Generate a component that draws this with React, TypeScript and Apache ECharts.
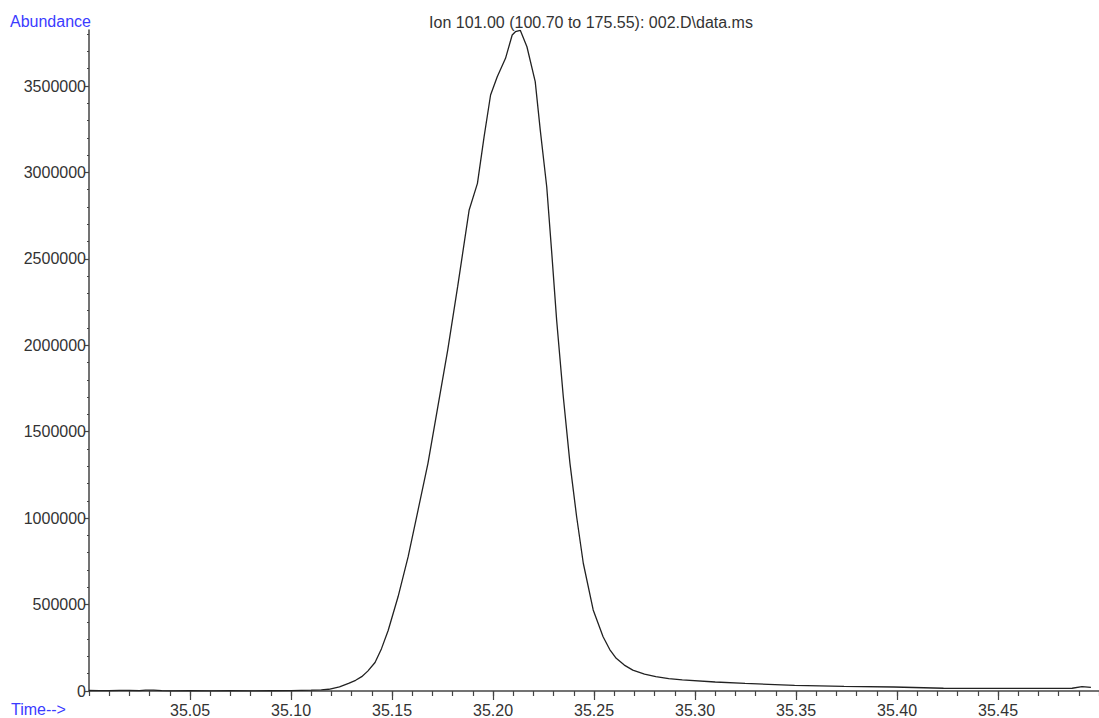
import React, { useEffect, useRef } from "react";
import * as echarts from "echarts";

const times: number[] = [
  35.0, 35.005, 35.01, 35.015, 35.02, 35.025, 35.028, 35.032, 35.036, 35.04,
  35.05, 35.06, 35.07, 35.08, 35.09, 35.1, 35.105, 35.11, 35.115, 35.1187,
  35.124, 35.1285, 35.132, 35.135, 35.138, 35.1416, 35.1448, 35.1481, 35.153,
  35.158, 35.1629, 35.1678, 35.1727, 35.1776, 35.1825, 35.1882, 35.1923,
  35.1956, 35.1988, 35.2021, 35.2062, 35.2095, 35.2111, 35.2135, 35.2168,
  35.2209, 35.2234, 35.2266, 35.2291, 35.2315, 35.2348, 35.2381, 35.2414,
  35.2447, 35.2496, 35.2545, 35.2578, 35.261, 35.265, 35.2692, 35.275, 35.2806,
  35.287, 35.2937, 35.31, 35.3248, 35.3493, 35.3738, 35.3984, 35.423, 35.4475,
  35.477, 35.4867, 35.4916, 35.496,
];

const abundance: number[] = [
  3000, 2000, 2500, 4000, 3500, 2500, 5000, 4500, 2000, 1000,
  1500, 1000, 1500, 1000, 1500, 2000, 4000, 5000, 7000, 10000,
  24000, 44000, 62000, 83000, 115000, 165000, 245000, 350000, 545000,
  777000, 1047000, 1317000, 1645000, 1973000, 2339000, 2783000, 2937000,
  3207000, 3448000, 3554000, 3660000, 3795000, 3814000, 3822000, 3727000,
  3525000, 3245000, 2917000, 2532000, 2146000, 1702000, 1317000, 1008000,
  739000, 469000, 314000, 240000, 189000, 150000, 121000, 98000, 83000,
  72000, 64000, 52000, 44000, 33000, 27000, 23000, 16000, 15000,
  15000, 16000, 25000, 21000,
];

const yMajorTicks: number[] = [0, 500000, 1000000, 1500000, 2000000, 2500000, 3000000, 3500000];
const yMinorTicks: number[] = [
  100000, 200000, 300000, 400000, 600000, 700000, 800000, 900000,
  1100000, 1200000, 1300000, 1400000, 1600000, 1700000, 1800000, 1900000,
  2100000, 2200000, 2300000, 2400000, 2600000, 2700000, 2800000, 2900000,
  3100000, 3200000, 3300000, 3400000, 3600000, 3700000, 3800000,
];

const titleText = "Ion 101.00 (100.70 to 175.55): 002.D\\data.ms";
const yAxisTitle = "Abundance";
const xAxisTitle = "Time-->";

const FONT = "'Liberation Sans', Arial, sans-serif";
const AXIS_COLOR = "#444";
const LABEL_COLOR = "#333";
const BLUE = "#3b3bff";

export default function App() {
  const ref = useRef<HTMLDivElement>(null);

  useEffect(() => {
    if (!ref.current) return;
    const chart = echarts.init(ref.current, null, { renderer: "svg" });
    const data = times.map((t, i) => [t, abundance[i]]);
    const option: any = {
      animation: false,
      backgroundColor: "#fff",
      textStyle: { fontFamily: FONT },
      grid: { left: 89, right: -4.5, top: 30, bottom: 27, containLabel: false },
      xAxis: [
        {
          type: "value",
          position: "bottom",
          min: 35.0,
          max: 35.5,
          interval: 0.05,
          axisLine: { show: true, onZero: false, lineStyle: { color: AXIS_COLOR, width: 1.5 } },
          axisTick: { show: true, inside: false, length: 9, lineStyle: { color: AXIS_COLOR, width: 1.2 } },
          axisLabel: {
            show: true,
            showMinLabel: false,
            showMaxLabel: false,
            margin: 11,
            fontSize: 16,
            fontFamily: FONT,
            color: LABEL_COLOR,
            formatter: (v: number) => v.toFixed(2),
          },
          splitLine: { show: false },
        },
        {
          type: "value",
          position: "bottom",
          min: 35.0,
          max: 35.5,
          interval: 0.01,
          axisLine: { show: false, onZero: false },
          axisTick: { show: true, inside: false, length: 5, lineStyle: { color: AXIS_COLOR, width: 1.2 } },
          axisLabel: { show: false },
          splitLine: { show: false },
        },
      ],
      yAxis: [
        {
          type: "value",
          position: "left",
          min: 0,
          max: 3824000,
          axisLine: { show: true, lineStyle: { color: AXIS_COLOR, width: 1.5 } },
          axisTick: {
            show: true,
            inside: false,
            length: 4,
            customValues: yMajorTicks,
            lineStyle: { color: AXIS_COLOR, width: 1.2 },
          },
          axisLabel: {
            show: true,
            customValues: yMajorTicks,
            margin: 3,
            fontSize: 16,
            fontFamily: FONT,
            color: LABEL_COLOR,
            formatter: (v: number) => String(v),
          },
          splitLine: { show: false },
        },
        {
          type: "value",
          position: "left",
          min: 0,
          max: 3824000,
          axisLine: { show: false },
          axisTick: {
            show: true,
            inside: false,
            length: 2,
            customValues: yMinorTicks,
            lineStyle: { color: AXIS_COLOR, width: 1.2 },
          },
          axisLabel: { show: false },
          splitLine: { show: false },
        },
      ],
      graphic: [
        {
          type: "text",
          x: 591,
          y: 22,
          style: {
            text: titleText,
            fontSize: 16,
            fontFamily: FONT,
            fill: LABEL_COLOR,
            align: "center",
            verticalAlign: "middle",
          },
        },
        {
          type: "text",
          x: 10,
          y: 21,
          style: {
            text: yAxisTitle,
            fontSize: 16,
            fontFamily: FONT,
            fill: BLUE,
            align: "left",
            verticalAlign: "middle",
          },
        },
        {
          type: "text",
          x: 11,
          y: 709,
          style: {
            text: xAxisTitle,
            fontSize: 16,
            fontFamily: FONT,
            fill: BLUE,
            align: "left",
            verticalAlign: "middle",
          },
        },
      ],
      series: [
        {
          type: "line",
          xAxisIndex: 0,
          yAxisIndex: 0,
          data,
          showSymbol: false,
          symbol: "none",
          smooth: false,
          lineStyle: { color: "#222", width: 1.3 },
        },
      ],
    };
    chart.setOption(option);
    return () => chart.dispose();
  }, []);

  return (
    <div
      ref={ref}
      style={{ position: "fixed", left: 0, top: 0, width: 1099, height: 718, background: "#fff" }}
    />
  );
}
